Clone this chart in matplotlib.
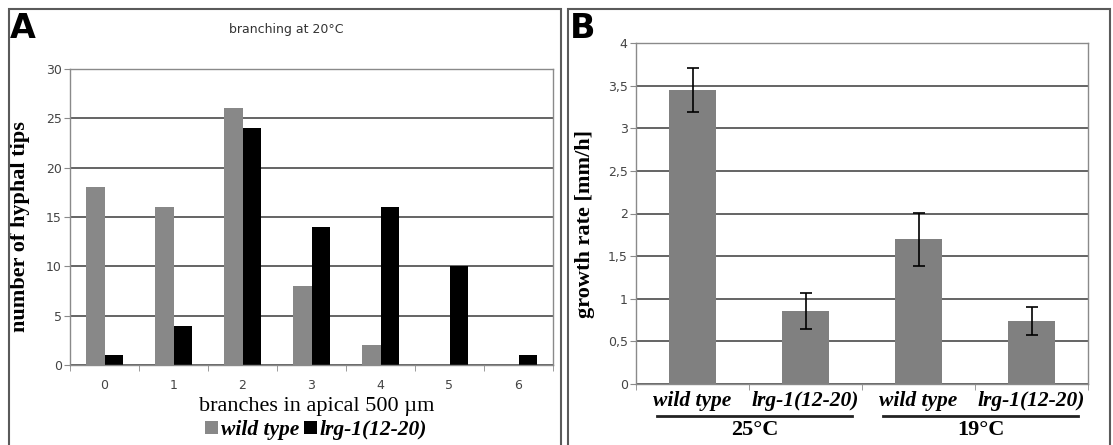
import numpy as np
import matplotlib
matplotlib.use("Agg")
import matplotlib.pyplot as plt
from matplotlib.patches import Rectangle
from matplotlib.ticker import FuncFormatter

# panel A: branching at 20 C
branches = [0, 1, 2, 3, 4, 5, 6]
tips_wt = [18, 16, 26, 8, 2, 0, 0]
tips_lrg = [1, 4, 24, 14, 16, 10, 1]

# panel B: growth rate
strains = ["wild type", "lrg-1(12-20)", "wild type", "lrg-1(12-20)"]
temps = ["25°C", "19°C"]
growth = [3.45, 0.86, 1.70, 0.74]
growth_err = [0.26, 0.21, 0.31, 0.16]

W, H = 1113, 445
serif = "Liberation Serif"
tick_col = "#444444"
spine_col = "#8a8a8a"
grid_col = "#3a3a3a"


def fx(px):
    return px / W


def fy(py):
    return 1 - py / H


def style_axes(ax):
    for s in ax.spines.values():
        s.set_color(spine_col)
        s.set_linewidth(1.0)
    ax.set_axisbelow(True)
    ax.yaxis.grid(True, color=grid_col, linewidth=1.1)
    ax.tick_params(axis="y", length=4, color=spine_col, labelsize=9,
                   labelcolor=tick_col, pad=2)
    ax.tick_params(axis="x", which="major", length=0, labelsize=9,
                   labelcolor=tick_col)
    ax.tick_params(axis="x", which="minor", length=4, color=spine_col)


fig = plt.figure(figsize=(W / 100, H / 100), dpi=100)

# panel frames
fig.patches.append(Rectangle((fx(9), -0.1), fx(561) - fx(9), fy(9) + 0.1,
                             transform=fig.transFigure, fill=False,
                             edgecolor="#5a5a5a", linewidth=1.5))
fig.patches.append(Rectangle((fx(568), -0.1), fx(1110) - fx(568), fy(9) + 0.1,
                             transform=fig.transFigure, fill=False,
                             edgecolor="#5a5a5a", linewidth=1.5))

# ---------------- panel A ----------------
axA = fig.add_axes([fx(70), fy(365), fx(553) - fx(70), fy(69) - fy(365)])
x = np.arange(len(branches))
bw = 0.275
axA.bar(x - bw / 2, tips_wt, bw, color="#888888", label="wild type")
axA.bar(x + bw / 2, tips_lrg, bw, color="black", label="lrg-1(12-20)")
axA.set_xlim(-0.5, len(branches) - 0.5)
axA.set_ylim(0, 30)
axA.set_yticks(range(0, 31, 5))
axA.set_xticks(x)
axA.set_xticklabels([str(b) for b in branches])
axA.set_xticks(np.arange(-0.5, len(branches), 1.0), minor=True)
style_axes(axA)
axA.tick_params(axis="x", which="major", pad=10)
axA.set_ylabel("number of hyphal tips", family=serif, fontweight="bold",
               fontsize=16)
axA.yaxis.set_label_coords((30 - 70) / 483, (365 - 227) / 296)
axA.text((317 - 70) / 483, (365 - 406) / 296, "branches in apical 500 µm",
         transform=axA.transAxes, ha="center", va="center",
         family=serif, fontsize=16)
axA.legend(loc="center", bbox_to_anchor=((316 - 70) / 483, (365 - 430) / 296),
           ncol=2, frameon=False, handlelength=0.6, handleheight=0.6,
           handletextpad=0.15, columnspacing=0.2, borderaxespad=0,
           prop={"family": serif, "weight": "bold", "style": "italic",
                 "size": 15.5})
fig.text(fx(286), fy(30), "branching at 20°C", ha="center", va="center",
         fontsize=9, color="#333333")
fig.text(fx(10), fy(38), "A", ha="left", va="baseline", fontsize=24,
         fontweight="bold")

# ---------------- panel B ----------------
axB = fig.add_axes([fx(636), fy(384), fx(1088) - fx(636), fy(43) - fy(384)])
xb = np.arange(len(growth))
axB.bar(xb, growth, 0.42, color="#808080", yerr=growth_err,
        error_kw={"ecolor": "black", "elinewidth": 1.2, "capsize": 4,
                  "capthick": 1.2})
axB.set_xlim(-0.5, len(growth) - 0.5)
axB.set_ylim(0, 4)
axB.set_yticks(np.arange(0, 4.01, 0.5))
axB.yaxis.set_major_formatter(
    FuncFormatter(lambda v, p: ("%g" % v).replace(".", ",")))
axB.set_xticks(xb)
axB.set_xticklabels([])
axB.set_xticks(np.arange(-0.5, len(growth), 1.0), minor=True)
style_axes(axB)
axB.set_ylabel("growth rate [mm/h]", family=serif, fontweight="bold",
               fontsize=16)
axB.yaxis.set_label_coords((595 - 636) / 452, (384 - 224.5) / 341)

tr = axB.get_xaxis_transform()
for xi, name in zip(xb, strains):
    axB.text(xi, (384 - 401) / 341, name, transform=tr, ha="center",
             va="center", family=serif, fontweight="bold", style="italic",
             fontsize=15.5)
for gi, t in enumerate(temps):
    c = 2 * gi + 0.55
    axB.plot([c - 0.86, c + 0.86], [(384 - 416) / 341] * 2, transform=tr,
             color="#222222", linewidth=2, clip_on=False)
    axB.text(c, (384 - 430) / 341, t, transform=tr, ha="center",
             va="center", family=serif, fontweight="bold", fontsize=16)
fig.text(fx(570), fy(38), "B", ha="left", va="baseline", fontsize=24,
         fontweight="bold")

fig.savefig("out.png", dpi=100)
